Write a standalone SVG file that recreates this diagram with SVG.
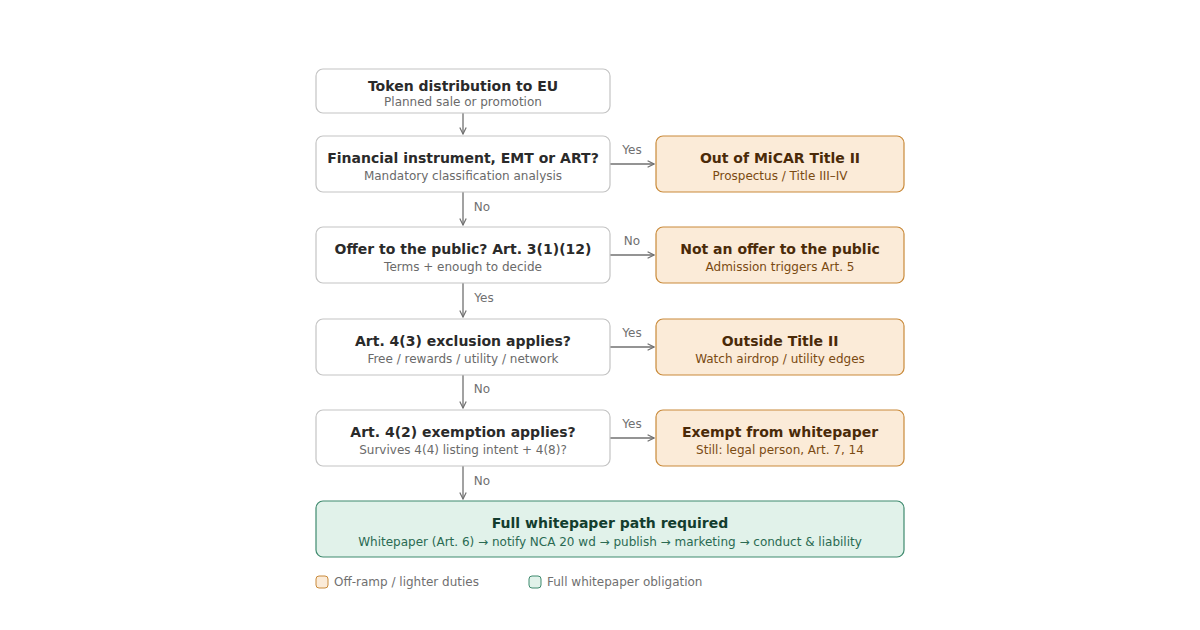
<svg xmlns="http://www.w3.org/2000/svg" width="1200" height="630" viewBox="0 0 1200 630">
<style>
text{font-family:"DejaVu Sans",sans-serif;text-anchor:middle}
.q rect{fill:#fff;stroke:#c4c4c4;stroke-width:1.2}
.o rect{fill:#fbebd8;stroke:#c98a3a;stroke-width:1.2}
.g rect{fill:#e1f2ea;stroke:#3f8a6e;stroke-width:1.2}
.t{font-size:14px;font-weight:bold;fill:#2a2a2a}
.s{font-size:12px;fill:#6a6a6a}
.o .t{fill:#4a2a08}.o .s{fill:#7a4a12}
.g .t{fill:#133d2e}.g .s{fill:#2a6a52}
.c line{stroke:#707070;stroke-width:1.3;marker-end:url(#a)}
.l{font-size:12px;fill:#707070}
.lg{font-size:12px;fill:#707070;text-anchor:start}
</style>
<defs><marker id="a" viewBox="0 0 10 10" refX="9" refY="5" markerWidth="8" markerHeight="8" orient="auto" markerUnits="userSpaceOnUse"><path d="M1,1 L9,5 L1,9" fill="none" stroke="#707070" stroke-width="1.5"/></marker></defs>
<rect width="1200" height="630" fill="#fff"/>
<g class="c">
<line x1="463" y1="113" x2="463" y2="134"/>
<line x1="463" y1="192" x2="463" y2="225"/>
<line x1="463" y1="283" x2="463" y2="317"/>
<line x1="463" y1="375" x2="463" y2="408"/>
<line x1="463" y1="466" x2="463" y2="499"/>
<line x1="610" y1="164" x2="654" y2="164"/>
<line x1="610" y1="255" x2="654" y2="255"/>
<line x1="610" y1="347" x2="654" y2="347"/>
<line x1="610" y1="438" x2="654" y2="438"/>
<text class="l" x="632" y="154">Yes</text>
<text class="l" x="632" y="245">No</text>
<text class="l" x="632" y="337">Yes</text>
<text class="l" x="632" y="428">Yes</text>
<text class="l" x="482" y="211">No</text>
<text class="l" x="484" y="302">Yes</text>
<text class="l" x="482" y="393">No</text>
<text class="l" x="482" y="485">No</text>
</g>
<g id="n1" class="q"><rect x="316" y="69" width="294" height="44" rx="7"/><text class="t" x="463" y="91">Token distribution to EU</text><text class="s" x="463" y="106">Planned sale or promotion</text></g>
<g id="n2" class="q"><rect x="316" y="136" width="294" height="56" rx="7"/><text class="t" x="463" y="163">Financial instrument, EMT or ART?</text><text class="s" x="463" y="180">Mandatory classification analysis</text></g>
<g id="n3" class="q"><rect x="316" y="227" width="294" height="56" rx="7"/><text class="t" x="463" y="254">Offer to the public? Art. 3(1)(12)</text><text class="s" x="463" y="271">Terms + enough to decide</text></g>
<g id="n4" class="q"><rect x="316" y="319" width="294" height="56" rx="7"/><text class="t" x="463" y="346">Art. 4(3) exclusion applies?</text><text class="s" x="463" y="363">Free / rewards / utility / network</text></g>
<g id="n5" class="q"><rect x="316" y="410" width="294" height="56" rx="7"/><text class="t" x="463" y="437">Art. 4(2) exemption applies?</text><text class="s" x="463" y="454">Survives 4(4) listing intent + 4(8)?</text></g>
<g id="o1" class="o"><rect x="656" y="136" width="248" height="56" rx="7"/><text class="t" x="780" y="163">Out of MiCAR Title II</text><text class="s" x="780" y="180">Prospectus / Title III–IV</text></g>
<g id="o2" class="o"><rect x="656" y="227" width="248" height="56" rx="7"/><text class="t" x="780" y="254">Not an offer to the public</text><text class="s" x="780" y="271">Admission triggers Art. 5</text></g>
<g id="o3" class="o"><rect x="656" y="319" width="248" height="56" rx="7"/><text class="t" x="780" y="346">Outside Title II</text><text class="s" x="780" y="363">Watch airdrop / utility edges</text></g>
<g id="o4" class="o"><rect x="656" y="410" width="248" height="56" rx="7"/><text class="t" x="780" y="437">Exempt from whitepaper</text><text class="s" x="780" y="454">Still: legal person, Art. 7, 14</text></g>
<g id="f" class="g"><rect x="316" y="501" width="588" height="56" rx="7"/><text class="t" x="610" y="528">Full whitepaper path required</text><text class="s" x="610" y="546">Whitepaper (Art. 6) → notify NCA 20 wd → publish → marketing → conduct &amp; liability</text></g>
<g id="legend">
<rect x="316" y="576" width="12" height="12" rx="3" fill="#fbebd8" stroke="#c98a3a"/>
<text class="lg" x="334" y="586">Off-ramp / lighter duties</text>
<rect x="529" y="576" width="12" height="12" rx="3" fill="#e1f2ea" stroke="#3f8a6e"/>
<text class="lg" x="547" y="586">Full whitepaper obligation</text>
</g>
</svg>
